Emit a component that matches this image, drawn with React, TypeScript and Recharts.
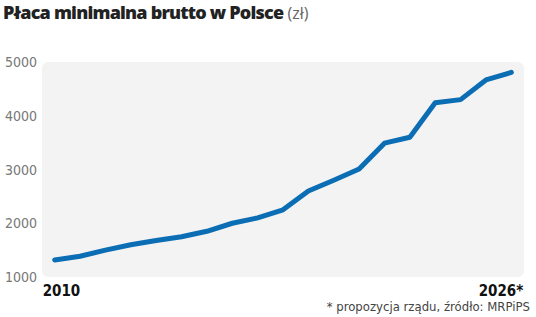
import React from 'react';
import { LineChart, Line, XAxis, YAxis, CartesianGrid, ReferenceArea } from 'recharts';

const periods = ['2010','2011','2012','2013','2014','2015','2016','2017','2018','2019','2020','2021','2022','2023 I','2023 VII','2024 I','2024 VII','2025','2026*'];
const wages = [1317,1386,1500,1600,1680,1750,1850,2000,2100,2250,2600,2800,3010,3490,3600,4242,4300,4666,4806];
const yTicks = [1000,2000,3000,4000,5000];
const xTickLabels = ['2010','2026*'];

const data = periods.map((p, i) => ({ i, period: p, wage: wages[i] }));

const condensed = '"DejaVu Sans", sans-serif';

const XTick = (props: any) => {
  const { x, y, payload } = props;
  const isFirst = payload.value === 0;
  const label = isFirst ? xTickLabels[0] : xTickLabels[1];
  return (
    <text x={isFirst ? x - 12 : x + 12} y={y + 11} textAnchor={isFirst ? 'start' : 'end'}
      fontFamily={condensed} fontWeight={700} fontSize={15} fill="#111" style={{ fontStretch: 'condensed' }}>{label}</text>
  );
};

const YTick = (props: any) => {
  const { x, y, payload } = props;
  return (
    <text x={x} y={y + 5} textAnchor="end" fontFamily={condensed} fontSize={14} fill="#777" style={{ fontStretch: 'condensed' }}>{payload.value}</text>
  );
};

export default function App() {
  return (
    <div style={{ position: 'absolute', left: 0, top: 0, width: 536, height: 317, background: '#fff' }}>
      <div style={{ position: 'absolute', left: 3, top: 0, fontFamily: '"Open Sans", sans-serif', fontSize: 18, whiteSpace: 'nowrap', letterSpacing: -0.8 }}>
        <span style={{ fontWeight: 800, color: '#222' }}>Płaca minimalna brutto w Polsce</span>
        <span style={{ fontWeight: 400, color: '#666', fontSize: 16, letterSpacing: 0 }}> (zł)</span>
      </div>
      <LineChart width={536} height={317} data={data} margin={{ top: 62, right: 12, bottom: 10, left: 0 }}>
        <ReferenceArea x1={-0.5} x2={18.5} y1={1000} y2={5000} fill="#f3f3f3" fillOpacity={1} stroke="none" radius={6} ifOverflow="extendDomain" />
        <CartesianGrid vertical={false} horizontalValues={[2000,3000,4000]} stroke="#dadada" strokeDasharray="4 4" />
        <XAxis dataKey="i" type="number" domain={[-0.5, 18.5]} ticks={[0, 18]} tick={<XTick />} axisLine={false} tickLine={false} height={30} allowDataOverflow />
        <YAxis width={42} domain={[1000, 5000]} ticks={yTicks} axisLine={false} tickLine={false} tickSize={0} tickMargin={5} tick={<YTick />} />
        <Line type="linear" dataKey="wage" stroke="#0b6db3" strokeWidth={5} dot={false} isAnimationActive={false} strokeLinejoin="round" strokeLinecap="round" />
      </LineChart>
      <div style={{ position: 'absolute', right: 6, top: 299, fontFamily: condensed, fontSize: 13, color: '#444', whiteSpace: 'nowrap', fontStretch: 'condensed' }}>
        * propozycja rządu, źródło: MRPiPS
      </div>
    </div>
  );
}
